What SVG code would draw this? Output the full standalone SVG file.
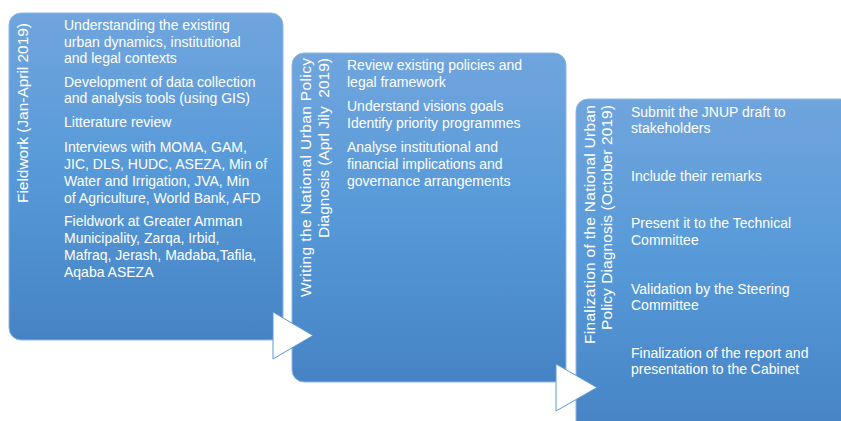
<svg xmlns="http://www.w3.org/2000/svg" width="841" height="421" viewBox="0 0 841 421">
  <defs>
    <linearGradient id="boxGrad" x1="0" y1="0" x2="0" y2="1">
      <stop offset="0" stop-color="#70A5DE"/>
      <stop offset="0.5" stop-color="#5699D8"/>
      <stop offset="1" stop-color="#4683C4"/>
    </linearGradient>
    <style>
      .box { fill: url(#boxGrad); stroke: #8CB7E5; stroke-width: 1; }
      .body { font-family: "Liberation Sans", Arial, sans-serif; font-size: 14px; fill: #FFFFFF; }
      .title { font-family: "Liberation Sans", Arial, sans-serif; font-size: 15.5px; fill: #FFFFFF; text-anchor: end; }
      .arrow { fill: #FFFFFF; stroke: #5B9BD5; stroke-width: 1; stroke-linejoin: miter; }
    </style>
  </defs>
  <rect width="841" height="421" fill="#FFFFFF"/>

  <g id="node-fieldwork">
    <rect class="box" x="9" y="13" width="274" height="327" rx="12" ry="12"/>
    <text class="title" transform="translate(28,23) rotate(-90)" textLength="180">Fieldwork (Jan-April 2019)</text>
    <text class="body">
      <tspan x="64" y="30">Understanding the existing</tspan>
      <tspan x="64" y="47">urban dynamics, institutional</tspan>
      <tspan x="64" y="63">and legal contexts</tspan>
      <tspan x="64" y="87">Development of data collection</tspan>
      <tspan x="64" y="103">and analysis tools (using GIS)</tspan>
      <tspan x="64" y="127">Litterature review</tspan>
      <tspan x="64" y="152">Interviews with MOMA, GAM,</tspan>
      <tspan x="64" y="169">JIC, DLS, HUDC, ASEZA, Min of</tspan>
      <tspan x="64" y="186">Water and Irrigation, JVA, Min</tspan>
      <tspan x="64" y="203">of Agriculture, World Bank, AFD</tspan>
      <tspan x="64" y="226">Fieldwork at Greater Amman</tspan>
      <tspan x="64" y="243">Municipality, Zarqa, Irbid,</tspan>
      <tspan x="64" y="260">Mafraq, Jerash, Madaba,Tafila,</tspan>
      <tspan x="64" y="277">Aqaba ASEZA</tspan>
    </text>
  </g>

  <g id="node-writing">
    <rect class="box" x="292" y="53" width="274" height="329" rx="12" ry="12"/>
    <text class="title" transform="translate(311,58) rotate(-90)" textLength="239">Writing the National Urban Policy</text>
    <text class="title" transform="translate(329,58) rotate(-90)" xml:space="preserve">Diagnosis (Aprl Jily  2019)</text>
    <text class="body">
      <tspan x="347" y="70">Review existing policies and</tspan>
      <tspan x="347" y="87">legal framework</tspan>
      <tspan x="347" y="111">Understand visions goals</tspan>
      <tspan x="347" y="128">Identify priority programmes</tspan>
      <tspan x="347" y="152">Analyse institutional and</tspan>
      <tspan x="347" y="169">financial implications and</tspan>
      <tspan x="347" y="186">governance arrangements</tspan>
    </text>
  </g>

  <g id="node-finalization">
    <rect class="box" x="576" y="99" width="276" height="334" rx="12" ry="12"/>
    <text class="title" transform="translate(595,105) rotate(-90)" textLength="239">Finalization of the National Urban</text>
    <text class="title" transform="translate(612,105) rotate(-90)" textLength="225">Policy Diagnosis (October 2019)</text>
    <text class="body">
      <tspan x="631" y="117">Submit the JNUP draft to</tspan>
      <tspan x="631" y="133">stakeholders</tspan>
      <tspan x="631" y="181">Include their remarks</tspan>
      <tspan x="631" y="228">Present it to the Technical</tspan>
      <tspan x="631" y="245">Committee</tspan>
      <tspan x="631" y="294">Validation by the Steering</tspan>
      <tspan x="631" y="310">Committee</tspan>
      <tspan x="631" y="358">Finalization of the report and</tspan>
      <tspan x="631" y="374">presentation to the Cabinet</tspan>
    </text>
  </g>

  <g id="connectors">
    <polygon class="arrow" points="273,312 313,335.5 273,359"/>
    <polygon class="arrow" points="556,364 597,387.5 556,411"/>
  </g>
</svg>
